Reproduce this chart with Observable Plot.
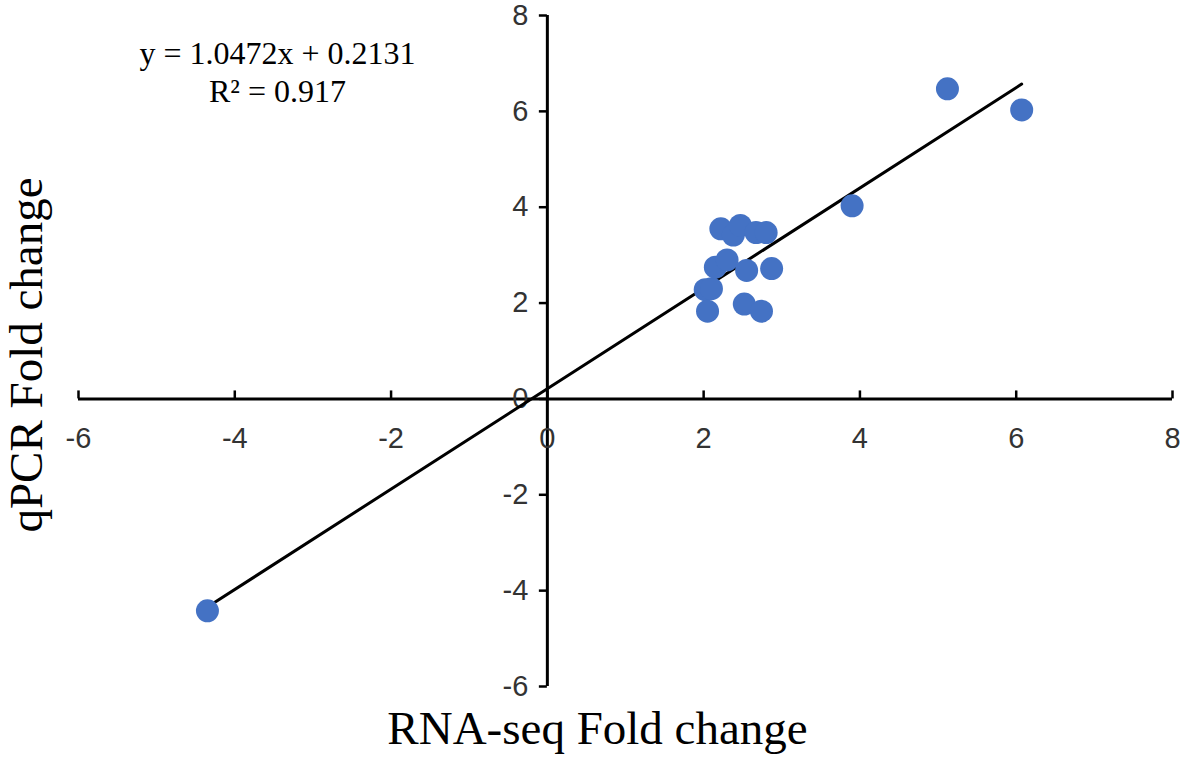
<!DOCTYPE html>
<html>
<head>
<meta charset="utf-8">
<script src="https://cdn.jsdelivr.net/npm/d3@7"></script>
<script src="https://cdn.jsdelivr.net/npm/@observablehq/plot@0.6"></script>
<style>
  html, body { margin: 0; padding: 0; background: #fff; }
  #chart { width: 1181px; height: 760px; }
</style>
</head>
<body>
<div id="chart"></div>
<script>
// RNA-seq fold change (x) vs qPCR fold change (y)
const rnaSeq = [-4.35, 2.02, 2.10, 2.05, 2.52, 2.74, 2.15, 2.30, 2.55, 2.87, 2.22, 2.38, 2.47, 2.67, 2.80, 3.90, 5.12, 6.07];
const qpcr   = [-4.42, 2.28, 2.30, 1.83, 1.98, 1.83, 2.75, 2.90, 2.68, 2.72, 3.55, 3.42, 3.62, 3.47, 3.47, 4.03, 6.47, 6.03];
const xTicks = [-6, -4, -2, 0, 2, 4, 6, 8];
const yTicks = [-6, -4, -2, 0, 2, 4, 6, 8];
const slope = 1.0472;
const intercept = 0.2131;
const r2 = 0.917;
const xTitle = "RNA-seq Fold change";
const yTitle = "qPCR Fold change";

const points = rnaSeq.map((x, i) => ({x, y: qpcr[i]}));
const xMin = d3.min(rnaSeq), xMax = d3.max(rnaSeq);
const fitLine = [xMin, xMax].map(x => ({x, y: slope * x + intercept}));
const eqText = `y = ${slope.toFixed(4)}x + ${intercept.toFixed(4)}\nR² = ${r2.toFixed(3)}`;

const sans = "'Liberation Sans', Arial, sans-serif";
const serif = "'Liberation Serif', 'Times New Roman', serif";

const chart = Plot.plot({
  width: 1181,
  height: 760,
  marginLeft: 78,
  marginRight: 9,
  marginTop: 15,
  marginBottom: 74,
  x: {domain: [xTicks[0], xTicks[xTicks.length - 1]], axis: null},
  y: {domain: [yTicks[0], yTicks[yTicks.length - 1]], axis: null},
  style: {background: "#fff", overflow: "visible"},
  marks: [
    // x axis line at y = 0
    Plot.ruleY([0], {x1: xTicks[0], x2: xTicks[xTicks.length - 1], stroke: "#000", strokeWidth: 3}),
    // y axis line at x = 0
    Plot.ruleX([0], {y1: yTicks[0], y2: yTicks[yTicks.length - 1], stroke: "#000", strokeWidth: 3}),
    // x tick marks (upwards)
    Plot.ruleX(xTicks, {x: d => d, y1: 0, y2: 0, insetTop: -8, insetBottom: 0, stroke: "#000", strokeWidth: 2.5}),
    // y tick marks (leftwards)
    Plot.ruleY(yTicks, {y: d => d, x1: 0, x2: 0, insetLeft: -8, insetRight: 0, stroke: "#000", strokeWidth: 2.5}),
    // tick labels
    Plot.text(xTicks, {x: d => d, y: 0, text: d => String(d), dy: 40, fontSize: 29, fill: "#333", fontFamily: sans}),
    Plot.text(yTicks, {x: 0, y: d => d, text: d => String(d), dx: -19, textAnchor: "end", fontSize: 29, fill: "#333", fontFamily: sans}),
    // regression line
    Plot.line(fitLine, {x: "x", y: "y", stroke: "#000", strokeWidth: 3}),
    // data points
    Plot.dot(points, {x: "x", y: "y", r: 11.5, fill: "#4472C4", stroke: "none"}),
    // equation
    Plot.text([eqText], {frameAnchor: "top-left", dx: 199, dy: 21, text: d => d, textAnchor: "middle", lineAnchor: "top", lineHeight: 1.2, fontSize: 32, fill: "#000", fontFamily: serif}),
    // axis titles
    Plot.text([xTitle], {frameAnchor: "bottom", dx: -28, dy: 57, text: d => d, textAnchor: "middle", fontSize: 47, fill: "#000", fontFamily: serif}),
    Plot.text([yTitle], {frameAnchor: "left", dx: -52, dy: 4, rotate: -90, text: d => d, textAnchor: "middle", fontSize: 47, fill: "#000", fontFamily: serif})
  ]
});
document.getElementById("chart").appendChild(chart);
</script>
</body>
</html>
